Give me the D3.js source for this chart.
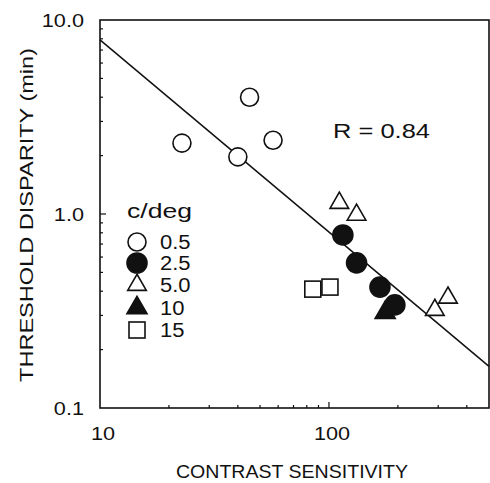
<!DOCTYPE html>
<html>
<head>
<meta charset="utf-8">
<script src="https://cdn.jsdelivr.net/npm/d3@7"></script>
<style>
  body { margin: 0; background: #fff; }
  text { font-family: "Liberation Sans", Arial, sans-serif; fill: #111; }
</style>
</head>
<body>
<svg id="chart" width="490" height="483"></svg>
<script>
// data
var freqs = ['0.5', '2.5', '5.0', '10', '15'];
var shapes = ['circle', 'circleFill', 'triangle', 'triangleFill', 'square'];
var sens0_5 = [22.8, 40, 45, 57];
var disp0_5 = [2.32, 1.97, 4.0, 2.4];
var sens2_5 = [115, 132, 167, 194];
var disp2_5 = [0.78, 0.56, 0.42, 0.34];
var sens5_0 = [111, 132, 290, 331];
var disp5_0 = [1.14, 0.99, 0.32, 0.37];
var sens10 = [176];
var disp10 = [0.31];
var sens15 = [85, 101];
var disp15 = [0.41, 0.42];
var fitSens = [10, 500];
var fitDisp = [7.9, 0.164];
var xTickLabels = ['10', '100'];
var yTickLabels = ['0.1', '1.0', '10.0'];

var margin = {left: 100, top: 20, right: 1, bottom: 75};
var width = 490, height = 483;

var svg = d3.select('#chart');

var x = d3.scaleLog().domain([10, 500]).range([margin.left, width - margin.right]);
var y = d3.scaleLog().domain([0.1, 10]).range([height - margin.bottom, margin.top]);

// the original lettering is wider than Liberation Sans, stretch it a bit
function widen(sel, k) {
    sel.each(function() {
        var w = this.getComputedTextLength();
        d3.select(this).attr('textLength', w * k).attr('lengthAdjust', 'spacingAndGlyphs');
    });
    return sel;
}

// frame
svg.append('rect')
    .attr('x', x(10)).attr('y', y(10))
    .attr('width', x(500) - x(10)).attr('height', y(0.1) - y(10))
    .attr('fill', 'none').attr('stroke', '#111').attr('stroke-width', 1.6);

// minor ticks, pointing inward
var xMinor = [20, 30, 40, 50, 60, 70, 80, 90, 100, 200, 300, 400];
svg.append('g').selectAll('line').data(xMinor).enter().append('line')
    .attr('x1', function(d) { return x(d); }).attr('x2', function(d) { return x(d); })
    .attr('y1', y(0.1)).attr('y2', function(d) { return d === 100 ? y(0.1) - 6 : y(0.1) - 3; })
    .attr('stroke', '#111').attr('stroke-width', 1.2);

var yMinor = [0.2, 0.3, 0.4, 0.5, 0.6, 0.7, 0.8, 0.9, 1, 2, 3, 4, 5, 6, 7, 8, 9];
svg.append('g').selectAll('line').data(yMinor).enter().append('line')
    .attr('y1', function(d) { return y(d); }).attr('y2', function(d) { return y(d); })
    .attr('x1', x(10)).attr('x2', function(d) { return d === 1 ? x(10) + 6 : x(10) + 3; })
    .attr('stroke', '#111').attr('stroke-width', 1.2);

// tick labels
var xt = svg.append('g').selectAll('text').data(xTickLabels).enter().append('text')
    .attr('x', function(d) { return x(+d) + 3; })
    .attr('y', y(0.1) + 32)
    .attr('text-anchor', 'middle')
    .style('font-size', '19px')
    .text(function(d) { return d; });
widen(xt, 1.14);

var yt = svg.append('g').selectAll('text').data(yTickLabels).enter().append('text')
    .attr('x', x(10) - 16)
    .attr('y', function(d) { return y(+d) + 7; })
    .attr('text-anchor', 'end')
    .style('font-size', '19px')
    .text(function(d) { return d; });
widen(yt, 1.14);

// axis titles
svg.append('text')
    .attr('x', 292).attr('y', 478)
    .attr('text-anchor', 'middle')
    .style('font-size', '18px')
    .attr('textLength', 232).attr('lengthAdjust', 'spacingAndGlyphs')
    .text('CONTRAST SENSITIVITY');

svg.append('text')
    .attr('transform', 'translate(33,215) rotate(-90)')
    .attr('text-anchor', 'middle')
    .style('font-size', '18px')
    .attr('textLength', 334).attr('lengthAdjust', 'spacingAndGlyphs')
    .text('THRESHOLD DISPARITY (min)');

// regression line
var line = d3.line()
    .x(function(d) { return x(d[0]); })
    .y(function(d) { return y(d[1]); });
svg.append('path')
    .datum(d3.zip(fitSens, fitDisp))
    .attr('d', line)
    .attr('fill', 'none').attr('stroke', '#111').attr('stroke-width', 1.5);

svg.append('text')
    .attr('x', 333).attr('y', 138)
    .style('font-size', '20px')
    .attr('textLength', 97).attr('lengthAdjust', 'spacingAndGlyphs')
    .text('R = 0.84');

// markers
function drawMark(g, shape) {
    var filled = shape.indexOf('Fill') > -1;
    var base = shape.replace('Fill', '');
    var el;
    if (base === 'circle') {
        el = g.append('circle').attr('r', filled ? 10 : 9);
    } else if (base === 'triangle') {
        el = g.append('path').attr('d', d3.symbol().type(d3.symbolTriangle).size(filled ? 175 : 150)());
    } else {
        el = g.append('rect').attr('x', -8).attr('y', -8).attr('width', 16).attr('height', 16);
    }
    el.attr('fill', filled ? '#111' : '#fff')
      .attr('stroke', '#111').attr('stroke-width', 1.6);
}

var series = [
    [sens0_5, disp0_5],
    [sens2_5, disp2_5],
    [sens5_0, disp5_0],
    [sens10, disp10],
    [sens15, disp15]
];

series.forEach(function(s, i) {
    d3.zip(s[0], s[1]).forEach(function(p) {
        var g = svg.append('g')
            .attr('transform', 'translate(' + x(p[0]) + ',' + y(p[1]) + ')');
        drawMark(g, shapes[i]);
    });
});

// legend
var legend = svg.append('g').attr('transform', 'translate(126,0)');
legend.append('text')
    .attr('x', 1).attr('y', 218)
    .style('font-size', '20px')
    .attr('textLength', 65).attr('lengthAdjust', 'spacingAndGlyphs')
    .text('c/deg');
var rows = [242, 263, 285, 308, 330];
freqs.forEach(function(f, i) {
    var g = legend.append('g').attr('transform', 'translate(11,' + rows[i] + ')');
    drawMark(g, shapes[i]);
    var t = legend.append('text')
        .attr('x', 34).attr('y', rows[i] + 7)
        .style('font-size', '20px')
        .text(f);
    widen(t, 1.1);
});
</script>
</body>
</html>
